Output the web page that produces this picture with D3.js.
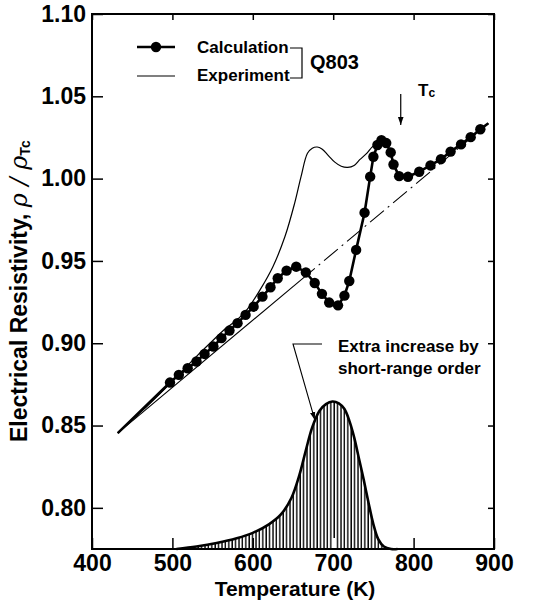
<!DOCTYPE html>
<html>
<head>
<meta charset="utf-8">
<script src="https://cdn.jsdelivr.net/npm/d3@7/dist/d3.min.js"></script>
<style>
  body { margin: 0; background: #fff; }
  text { font-family: "Liberation Sans", Arial, sans-serif; font-weight: bold; fill: #000; }
</style>
</head>
<body>
<svg id="chart"></svg>
<script>
var width = 538, height = 603;
var svg = d3.select("#chart").attr("width", width).attr("height", height);

// calculation (line with dots) - first and last point have no dot
var calcT = [432, 497, 508, 519, 530, 540, 551, 561, 571, 581, 591, 601, 612, 622, 631, 642, 654, 666, 677, 686, 695, 706,
  714, 720, 728.5, 739, 746, 750, 755, 760, 766, 771.5, 775, 782, 793, 807, 821, 834, 846, 859, 871, 883, 893];
var calcV = [0.8454, 0.8761, 0.8808, 0.8848, 0.8889, 0.8935, 0.8980, 0.9031, 0.9077, 0.9122, 0.9172, 0.9222, 0.9283, 0.9340,
  0.9395, 0.9441, 0.9465, 0.9430, 0.9366, 0.9300, 0.9247, 0.9230, 0.9289, 0.9378, 0.9567, 0.9793, 1.0012, 1.0133, 1.0204,
  1.0233, 1.0216, 1.0159, 1.0086, 1.0015, 1.0011, 1.0042, 1.0080, 1.0118, 1.0164, 1.0208, 1.0252, 1.0300, 1.0336];

// experiment (thin line), runs into the calculation near its peak
var expT = [432, 450, 470, 490, 510, 530, 550, 565, 581, 593, 609, 625, 640, 652, 660, 668, 674, 680, 686, 694, 702, 710,
  718, 726, 733, 742, 748, 754];
var expV = [0.8454, 0.8535, 0.8625, 0.8720, 0.8820, 0.8920, 0.9015, 0.9085, 0.9145, 0.9205, 0.9324, 0.9465, 0.9648, 0.9850,
  1.0012, 1.0154, 1.0185, 1.0192, 1.0180, 1.0140, 1.0100, 1.0075, 1.0068, 1.0080, 1.0115, 1.0155, 1.0190, 1.0215];

// dash-dot base line
var baseT = [432, 893];
var baseV = [0.8454, 1.0336];

// extra increase by short-range order (hatched)
var sroT = [505, 530, 555, 580, 600, 620, 635, 648, 658, 666, 674, 683, 691, 699, 707, 714, 720, 726, 732, 738, 744, 750,
  756, 763, 772, 780];
var sroV = [0.775, 0.7765, 0.7786, 0.7815, 0.7848, 0.790, 0.796, 0.806, 0.820, 0.835, 0.849, 0.859, 0.863, 0.8646, 0.8635,
  0.860, 0.853, 0.843, 0.830, 0.817, 0.803, 0.790, 0.781, 0.7765, 0.775, 0.775];

var xTicks = [400, 500, 600, 700, 800, 900];
var yTicks = [0.80, 0.85, 0.90, 0.95, 1.00, 1.05, 1.10];
var Tc = 784;

var x = d3.scaleLinear().domain([400, 900]).range([92, 494]);
var y = d3.scaleLinear().domain([0.775, 1.10]).range([549, 14]);

var defs = svg.append("defs");
var pat = defs.append("pattern").attr("id", "hatch")
  .attr("patternUnits", "userSpaceOnUse").attr("width", 3.4).attr("height", 10);
pat.append("line").attr("x1", 1).attr("x2", 1).attr("y1", 0).attr("y2", 10)
  .attr("stroke", "#000").attr("stroke-width", 1.4);
defs.append("marker").attr("id", "head")
  .attr("viewBox", "0 0 10 10").attr("refX", 10).attr("refY", 5)
  .attr("markerWidth", 7).attr("markerHeight", 7).attr("orient", "auto")
  .append("path").attr("d", "M0,1.5 L10,5 L0,8.5 z").attr("fill", "#000");

// hatched area
var sro = sroT.map(function (t, i) { return [t, sroV[i]]; });
var area = d3.area()
  .x(function (d) { return x(d[0]); })
  .y0(y(0.775))
  .y1(function (d) { return y(d[1]); })
  .curve(d3.curveCatmullRom);
svg.append("path").attr("d", area(sro)).attr("fill", "url(#hatch)");
svg.append("path")
  .attr("d", d3.line().x(function (d) { return x(d[0]); }).y(function (d) { return y(d[1]); }).curve(d3.curveCatmullRom)(sro))
  .attr("fill", "none").attr("stroke", "#000").attr("stroke-width", 2.6);

// base line: solid low part, dash-dot above
var baseAt = d3.scaleLinear().domain(baseT).range(baseV);
var split = 660;
svg.append("line")
  .attr("x1", x(baseT[0])).attr("y1", y(baseV[0]))
  .attr("x2", x(split)).attr("y2", y(baseAt(split)))
  .attr("stroke", "#000").attr("stroke-width", 1.1);
svg.append("line")
  .attr("x1", x(split)).attr("y1", y(baseAt(split)))
  .attr("x2", x(baseT[1])).attr("y2", y(baseV[1]))
  .attr("stroke", "#000").attr("stroke-width", 1.1)
  .attr("stroke-dasharray", "18,5,2,5");

// experiment
var lineGen = d3.line()
  .x(function (d) { return x(d[0]); })
  .y(function (d) { return y(d[1]); });
var exp = expT.map(function (t, i) { return [t, expV[i]]; });
svg.append("path")
  .attr("d", lineGen.curve(d3.curveCatmullRom)(exp))
  .attr("fill", "none").attr("stroke", "#000").attr("stroke-width", 1.2);

// calculation
var calc = calcT.map(function (t, i) { return [t, calcV[i]]; });
svg.append("path")
  .attr("d", lineGen.curve(d3.curveLinear)(calc))
  .attr("fill", "none").attr("stroke", "#000").attr("stroke-width", 2.6);
svg.selectAll(".dot")
  .data(calc.slice(1, calc.length - 1))
  .enter().append("circle")
  .attr("class", "dot")
  .attr("cx", function (d) { return x(d[0]); })
  .attr("cy", function (d) { return y(d[1]); })
  .attr("r", 5.2)
  .attr("fill", "#000");

// axes, ticks point inward
var sroAt = d3.scaleLinear().domain(sroT).range(sroV);
function inHatch(d) {
  return d >= sroT[0] && d <= sroT[sroT.length - 1] && y(0.775) - y(sroAt(d)) > 30;
}
var gx = svg.append("g").attr("transform", "translate(0," + y(0.775) + ")")
  .call(d3.axisBottom(x).tickValues(xTicks).tickSize(-11).tickPadding(6).tickFormat(d3.format("d")));
gx.selectAll("text").style("font-size", "23px");
// the tick inside the hatching shows up white
gx.selectAll(".tick line")
  .attr("stroke", function (d) { return inHatch(d) ? "#fff" : "#000"; })
  .attr("stroke-width", function (d) { return inHatch(d) ? 3.5 : 1.5; });

var gy = svg.append("g").attr("transform", "translate(" + x(400) + ",0)")
  .call(d3.axisLeft(y).tickValues(yTicks).tickSize(-11).tickPadding(6).tickFormat(d3.format(".2f")));
gy.selectAll("text").style("font-size", "23px");
gy.selectAll(".tick line").attr("stroke-width", 1.5);

var gr = svg.append("g").attr("transform", "translate(" + x(900) + ",0)")
  .call(d3.axisRight(y).tickValues(yTicks).tickSize(-6).tickFormat(""));
var gt = svg.append("g").attr("transform", "translate(0," + y(1.10) + ")")
  .call(d3.axisTop(x).tickValues(xTicks).tickSize(-6).tickFormat(""));
[gx, gy, gr, gt].forEach(function (g) { g.select(".domain").remove(); });
gr.selectAll(".tick line").attr("stroke-width", 1.5);
gt.selectAll(".tick line").attr("stroke-width", 1.5);

// frame
svg.append("rect")
  .attr("x", x(400)).attr("y", y(1.10))
  .attr("width", x(900) - x(400)).attr("height", y(0.775) - y(1.10))
  .attr("fill", "none").attr("stroke", "#000").attr("stroke-width", 2);

// axis titles
svg.append("text").attr("x", 295).attr("y", 596).attr("text-anchor", "middle")
  .style("font-size", "21px").text("Temperature (K)");
var yt = svg.append("text").attr("transform", "translate(27,442) rotate(-90)")
  .style("font-size", "23px");
yt.append("tspan").text("Electrical Resistivity, ");
yt.append("tspan").style("font-family", "'DejaVu Serif', serif").style("font-style", "italic")
  .style("font-weight", "normal").style("font-size", "24px").text("ρ / ρ");
yt.append("tspan").attr("dy", 3).style("font-size", "14px").text("Tc");

// legend
svg.append("line").attr("x1", 137).attr("x2", 175).attr("y1", 47).attr("y2", 47)
  .attr("stroke", "#000").attr("stroke-width", 2.6);
svg.append("circle").attr("cx", 156).attr("cy", 47).attr("r", 5.2).attr("fill", "#000");
svg.append("line").attr("x1", 137).attr("x2", 175).attr("y1", 76).attr("y2", 76)
  .attr("stroke", "#000").attr("stroke-width", 1.2);
svg.append("text").attr("x", 197).attr("y", 53).style("font-size", "17px").text("Calculation");
svg.append("text").attr("x", 197).attr("y", 81).style("font-size", "17px").text("Experiment");
svg.append("path").attr("d", "M290,48H302V78H290").attr("fill", "none")
  .attr("stroke", "#000").attr("stroke-width", 1.2);
svg.append("text").attr("x", 310).attr("y", 69).style("font-size", "20px").text("Q803");

// Tc arrow
svg.append("line").attr("x1", x(Tc)).attr("x2", x(Tc)).attr("y1", 94).attr("y2", 125)
  .attr("stroke", "#000").attr("stroke-width", 1.2).attr("marker-end", "url(#head)");
var tc = svg.append("text").attr("x", 418).attr("y", 96).style("font-size", "17px");
tc.append("tspan").text("T");
tc.append("tspan").attr("dy", 1).style("font-size", "12px").text("c");

// short-range order note
svg.append("text").attr("x", 338).attr("y", 352).style("font-size", "17px").text("Extra increase by");
svg.append("text").attr("x", 338).attr("y", 374).style("font-size", "17px").text("short-range order");
var tipT = 677;
svg.append("path")
  .attr("d", "M322,344H293L" + x(tipT) + "," + (y(sroAt(tipT)) - 2))
  .attr("fill", "none").attr("stroke", "#000").attr("stroke-width", 1.1)
  .attr("marker-end", "url(#head)");
</script>
</body>
</html>
